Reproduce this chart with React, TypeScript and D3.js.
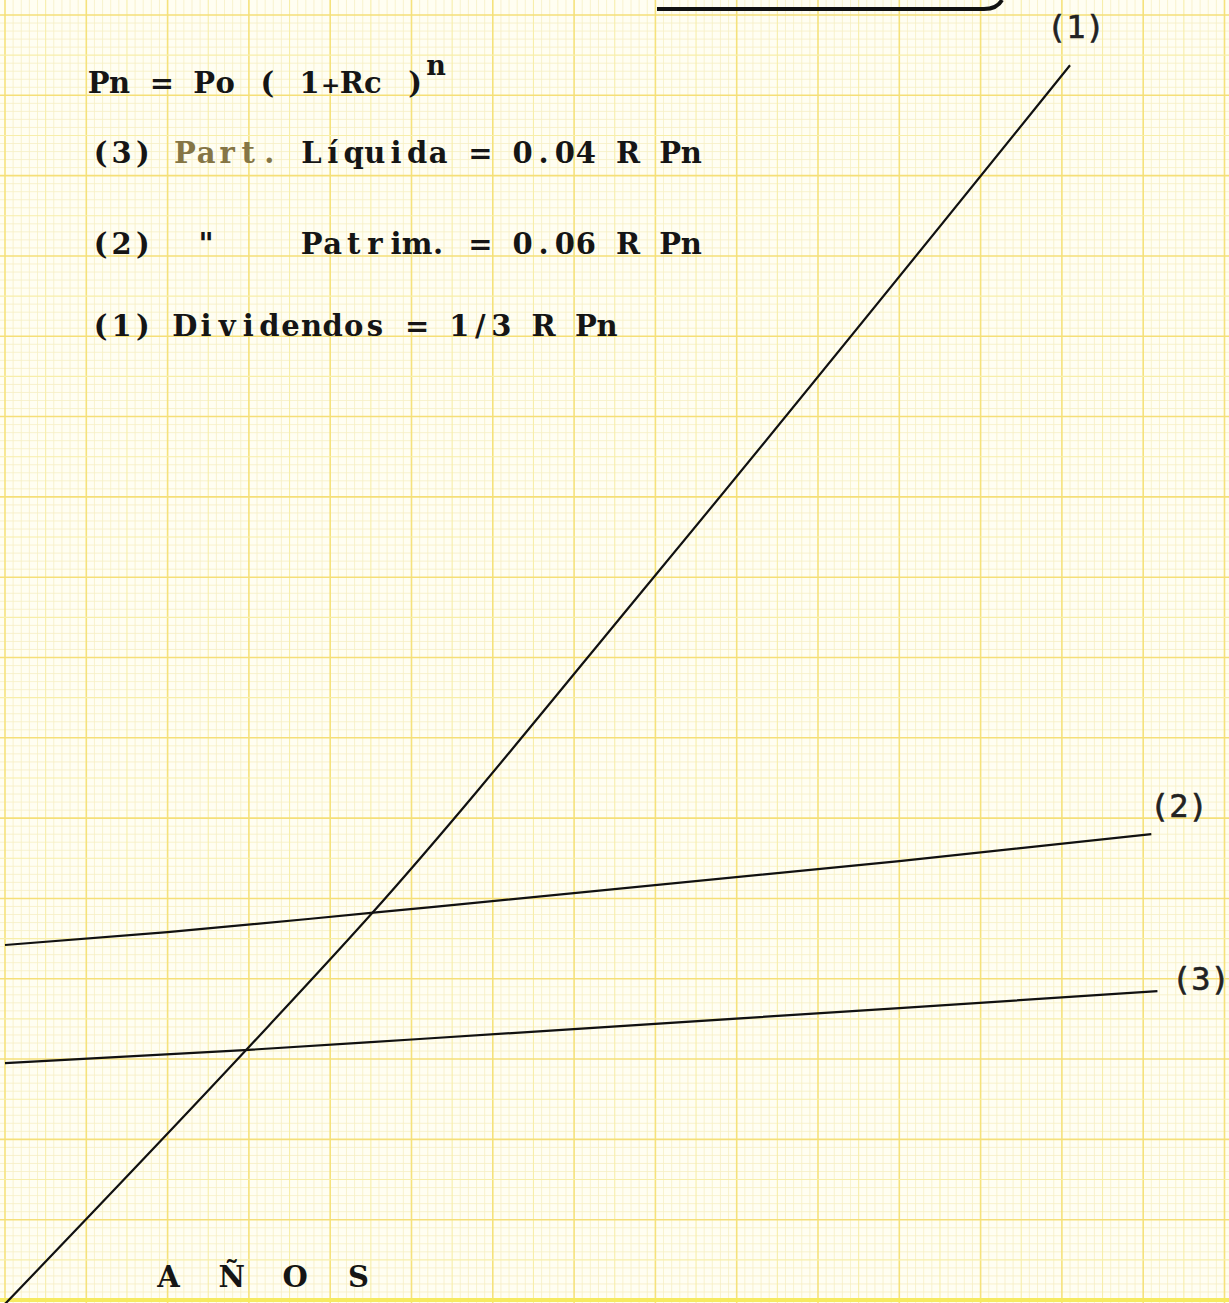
import React, { useEffect, useRef } from 'react';
import * as d3 from 'd3';

// years (x) and value (in grid units) for each line
const yearsDiv = [0, 6, 9, 16, 26.2];
const dividendos = [-0.1, 6.3, 9.6, 18.05, 30.75];
const yearsPat = [0, 4, 9, 22, 28.2];
const patrimonio = [8.84, 9.16, 9.64, 10.93, 11.6];
const yearsLiq = [0, 6, 10.2, 22, 28.35];
const partLiquida = [5.9, 6.23, 6.5, 7.27, 7.69];

const seriesLabels = ['(1)', '(2)', '(3)'];

const formulaLines = [
  'Pn = Po ( 1+Rc )',
  '(3) Part. Líquida = 0.04 R Pn',
  '(2)  "    Patrim. = 0.06 R Pn',
  '(1) Dividendos = 1/3 R Pn',
];
const xLabel = 'A  Ñ  O  S';

const W = 1229;
const H = 1303;
const ADV = 21.1; // typewriter pitch

const App = () => {
  const svgRef = useRef<SVGSVGElement>(null);

  useEffect(() => {
    const svg = d3.select(svgRef.current);
    svg.selectAll('*').remove();

    // graph paper scales: 1 unit = one 5mm square
    const x = d3.scaleLinear().domain([0, 30]).range([5, 5 + 30 * 40.65]);
    const y = d3.scaleLinear().domain([0, 32]).range([1300, 15]);

    svg.append('rect').attr('width', W).attr('height', H).attr('fill', '#fffef2');

    const grid = svg.append('g');
    const minorX = d3.range(0, 30.01, 0.2).filter((d) => Math.abs(d - Math.round(d)) > 0.01);
    const minorY = d3.range(0, 32.01, 0.2).filter((d) => Math.abs(d - Math.round(d)) > 0.01);

    // minor mm lines
    grid
      .selectAll('line.mx')
      .data(minorX)
      .enter()
      .append('line')
      .attr('x1', (d) => x(d))
      .attr('x2', (d) => x(d))
      .attr('y1', 0)
      .attr('y2', H)
      .attr('stroke', '#f6efc4')
      .attr('stroke-width', 0.8);
    grid
      .selectAll('line.my')
      .data(minorY)
      .enter()
      .append('line')
      .attr('x1', 0)
      .attr('x2', W)
      .attr('y1', (d) => y(d))
      .attr('y2', (d) => y(d))
      .attr('stroke', '#f6efc4')
      .attr('stroke-width', 0.8);

    // 5mm and 10mm lines
    const majorX = d3.range(0, 31);
    const majorY = d3.range(0, 33);
    grid
      .selectAll('line.Mx')
      .data(majorX)
      .enter()
      .append('line')
      .attr('x1', (d) => x(d))
      .attr('x2', (d) => x(d))
      .attr('y1', 0)
      .attr('y2', H)
      .attr('stroke', (d) => (d % 2 === 0 ? '#f5e27c' : '#f7eeaa'))
      .attr('stroke-width', (d) => (d % 2 === 0 ? 1.6 : 1.1));
    grid
      .selectAll('line.My')
      .data(majorY)
      .enter()
      .append('line')
      .attr('x1', 0)
      .attr('x2', W)
      .attr('y1', (d) => y(d))
      .attr('y2', (d) => y(d))
      .attr('stroke', (d) => (d === 0 ? '#f6ea60' : d % 2 === 0 ? '#f5df78' : '#f7eeaa'))
      .attr('stroke-width', (d) => (d === 0 ? 4 : d % 2 === 0 ? 1.6 : 1.1));

    // curves
    const line = d3
      .line<[number, number]>()
      .x((d) => x(d[0]))
      .y((d) => y(d[1]))
      .curve(d3.curveMonotoneX);

    const series = [
      d3.zip(yearsDiv, dividendos),
      d3.zip(yearsPat, patrimonio),
      d3.zip(yearsLiq, partLiquida),
    ] as [number, number][][];

    svg
      .selectAll('path.serie')
      .data(series)
      .enter()
      .append('path')
      .attr('d', (d) => line(d))
      .attr('fill', 'none')
      .attr('stroke', '#111')
      .attr('stroke-width', 2.2);

    // labels at the end of each line
    const labelPos = [
      [1047, 38],
      [1150, 817],
      [1172, 990],
    ];
    svg
      .selectAll('text.lab')
      .data(seriesLabels)
      .enter()
      .append('text')
      .attr('x', (_, i) => labelPos[i][0])
      .attr('y', (_, i) => labelPos[i][1])
      .attr('font-family', 'DejaVu Sans Mono, monospace')
      .attr('font-size', 32)
      .attr('fill', '#222')
      .attr('stroke', '#222')
      .attr('stroke-width', 0.6)
      .text((d) => d);

    // underline of the (cut-off) title
    svg
      .append('path')
      .attr('d', 'M657,9 L984,9 Q997,9 1002,0')
      .attr('fill', 'none')
      .attr('stroke', '#111')
      .attr('stroke-width', 4);

    // typed text: each character at a fixed pitch like a typewriter
    const tx = svg
      .append('g')
      .attr('font-family', 'DejaVu Serif, Liberation Serif, serif')
      .attr('font-weight', 'bold')
      .attr('font-size', 29)
      .attr('text-anchor', 'middle')
      .attr('fill', '#151515');

    const typeLine = (t: string, x0: number, y0: number, colorOf?: (i: number) => string) => {
      Array.from(t).forEach((ch, i) => {
        if (ch === ' ') return;
        tx.append('text')
          .attr('x', x0 + i * ADV + ADV / 2)
          .attr('y', y0)
          .attr('font-size', ch === '+' ? 23 : null)
          .attr('fill', colorOf ? colorOf(i) : '#151515')
          .text(ch);
      });
    };

    const baseY = [93, 163, 254, 336];
    const baseX = [88, 90, 90, 90];
    formulaLines.forEach((t, i) => {
      typeLine(t, baseX[i], baseY[i], i === 1 ? (k) => (k >= 4 && k <= 8 ? '#857545' : '#151515') : undefined);
    });
    tx.append('text').attr('x', 436).attr('y', 75).attr('font-size', 27).text('n');

    typeLine(xLabel, 158, 1287);
  }, []);

  return (
    <svg
      ref={svgRef}
      width={W}
      height={H}
      style={{ position: 'absolute', left: 0, top: 0, display: 'block' }}
    />
  );
};

export default App;
